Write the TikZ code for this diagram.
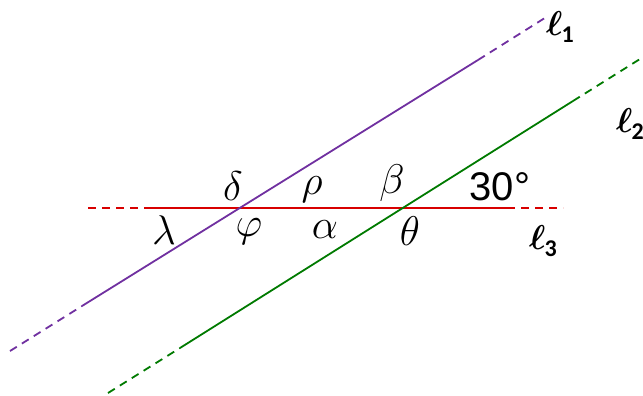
\documentclass[tikz,border=0pt]{standalone}
\usepackage{fontspec}
\usepackage{amsmath,bm}
\usetikzlibrary{calc}
\newfontfamily\lblfont{Carlito}
\newfontfamily\degfont{Liberation Sans}
\definecolor{lnpurple}{HTML}{7030A0}
\definecolor{lngreen}{HTML}{007A00}
\definecolor{lnred}{HTML}{D80000}
\newcommand{\lname}[1]{$\bm{\ell}$\kern-0.5pt\raisebox{-0.45ex}{\lblfont\bfseries\fontsize{12}{14}\selectfont #1}}
\tikzset{
  solidln/.style={line width=0.9pt},
  dashln/.style ={line width=0.9pt, dash pattern=on 4pt off 3pt},
  ang/.style    ={font=\fontsize{20}{24}\selectfont, inner sep=0pt},
  lbl/.style    ={font=\fontsize{18}{22}\selectfont, inner sep=0pt},
}
\begin{document}
\begin{tikzpicture}[x=0.5pt,y=-0.5pt]
    \useasboundingbox (0,0) rectangle (643,396);

    % l1
    \coordinate (p1a) at (10,351);
    \coordinate (p1b) at (82,306);
    \coordinate (p1c) at (478,60);
    \coordinate (p1d) at (548,16);
    % l2
    \coordinate (p2a) at (108,393);
    \coordinate (p2b) at (180,348);
    \coordinate (p2c) at (573,101);
    \coordinate (p2d) at (648,54);
    % l3
    \coordinate (p3a) at (88,208);
    \coordinate (p3b) at (150,208);
    \coordinate (p3c) at (507,208);
    \coordinate (p3d) at (563,208);

    \draw[lnred,dashln]  (p3a) -- (p3b);
    \draw[lnred,solidln] (p3b) -- (p3c);
    \draw[lnred,dashln]  (p3c) -- (p3d);

    \draw[lnpurple,dashln]  (p1a) -- (p1b);
    \draw[lnpurple,solidln] (p1b) -- (p1c);
    \draw[lnpurple,dashln]  (p1c) -- (p1d);

    \draw[lngreen,dashln]  (p2a) -- (p2b);
    \draw[lngreen,solidln] (p2b) -- (p2c);
    \draw[lngreen,dashln]  (p2c) -- (p2d);

    \node[ang] (delta) at (233,186) {$\delta$};
    \node[ang] (rho)   at (312,190) {$\rho$};
    \node[ang] (beta)  at (392,183) {$\beta$};
    \node[ang,font=\degfont\fontsize{20}{24}\selectfont] (deg) at (500,187) {30°};
    \node[ang] (lambda) at (164,230) {$\lambda$};
    \node[ang] (phi)    at (249,232) {$\varphi$};
    \node[ang] (alpha)  at (325,230) {$\alpha$};
    \node[ang] (theta)  at (410,231) {$\theta$};

    \node[lbl] (n1) at (560,27)  {\lname{1}};
    \node[lbl] (n2) at (630,124) {\lname{2}};
    \node[lbl] (n3) at (543,241) {\lname{3}};
\end{tikzpicture}
\end{document}
